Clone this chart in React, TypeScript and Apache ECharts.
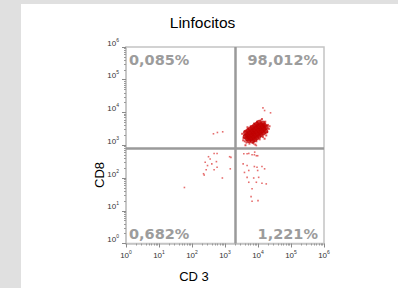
import React, { useEffect, useRef } from "react";
import * as echarts from "echarts";

// Axis bounds (log10 scale, decades 10^0 .. 10^6)
const AXIS_MIN = 1;
const AXIS_MAX = 1000000;

// Quadrant gates (CD3, CD8)
const GATE_CD3 = 2000;
const GATE_CD8 = 800;

// Quadrant percentages: [upper-left, upper-right, lower-left, lower-right]
const PCT_LABELS = ["0,085%", "98,012%", "0,682%", "1,221%"];

const TITLE = "Linfocitos";
const X_NAME = "CD 3";
const Y_NAME = "CD8";

// Dense core of the CD3+CD8+ population, [log10 CD3, log10 CD8]
const coreLog: [number, number][] = [
  [3.62, 3.27], [3.67, 3.21], [3.72, 3.15],
  [3.63, 3.39], [3.68, 3.32], [3.73, 3.26], [3.78, 3.2], [3.83, 3.13],
  [3.7, 3.44], [3.75, 3.37], [3.8, 3.31], [3.85, 3.25], [3.9, 3.18],
  [3.77, 3.49], [3.82, 3.42], [3.86, 3.36], [3.91, 3.3], [3.96, 3.23],
  [3.83, 3.54], [3.88, 3.47], [3.93, 3.41], [3.98, 3.35], [4.03, 3.28],
  [3.9, 3.59], [3.95, 3.52], [4.0, 3.46], [4.05, 3.4], [4.09, 3.33],
  [3.96, 3.64], [4.01, 3.57], [4.06, 3.51], [4.11, 3.45], [4.16, 3.38],
  [4.03, 3.69], [4.08, 3.62], [4.13, 3.56], [4.18, 3.5], [4.23, 3.43],
  [4.15, 3.67], [4.19, 3.61], [4.24, 3.55],
];

// Fringe events around the core, [log10 CD3, log10 CD8]
const fringeLog: [number, number][] = [
  [3.55, 3.15], [3.58, 3.3], [3.6, 3.42], [3.65, 3.08], [3.7, 3.5],
  [3.74, 3.05], [3.78, 3.58], [3.85, 3.08], [3.88, 3.66], [3.95, 3.12],
  [3.97, 3.72], [4.05, 3.18], [4.08, 3.76], [4.15, 3.25], [4.22, 3.72],
  [4.28, 3.4], [4.3, 3.62], [4.33, 3.5], [4.25, 3.3], [3.56, 3.22],
  [3.62, 3.0], [3.68, 3.55], [4.12, 3.8], [3.92, 3.02], [4.2, 3.2],
  [3.52, 3.35], [4.35, 3.58], [3.6, 3.12],
];

// Sparse scattered events, [log10 CD3, log10 CD8]
const sparseLog: [number, number][] = [
  // above the cluster
  [4.15, 4.14], [4.2, 4.06], [4.38, 3.99],
  // upper-left quadrant
  [2.65, 3.35], [2.77, 3.39], [2.93, 3.41],
  // between cluster and gate
  [3.87, 3.04], [3.95, 2.99],
  // lower-left quadrant
  [2.5, 2.65], [2.67, 2.75], [2.76, 2.75], [2.55, 2.58], [2.4, 2.48],
  [2.6, 2.43], [2.74, 2.5], [2.47, 2.38], [2.43, 2.25], [2.67, 2.25],
  [2.35, 2.13], [2.37, 2.09], [2.76, 2.33], [3.14, 2.65], [3.16, 2.28],
  [2.92, 2.0], [1.77, 1.71], [3.18, 2.63],
  // lower-right quadrant
  [3.67, 2.74], [3.82, 2.71], [3.9, 2.79], [3.99, 2.68],
  [3.57, 2.74], [3.72, 2.75], [3.89, 2.71], [3.95, 2.68],
  [3.55, 2.43], [3.67, 2.38], [3.89, 2.35], [3.97, 2.33], [4.12, 2.35],
  [4.2, 2.28], [3.72, 2.23], [3.99, 2.23], [3.67, 2.02], [3.87, 2.0],
  [4.02, 2.02], [3.72, 1.87], [3.95, 1.87], [4.12, 1.84], [4.25, 1.82],
  [3.82, 1.67], [3.79, 1.43], [4.0, 1.31], [3.82, 1.29], [3.59, 2.17],
];

const toValues = (pts: [number, number][]) =>
  pts.map(([lx, ly]) => [Math.pow(10, lx), Math.pow(10, ly)]);

const GRID = { left: 126, top: 47, width: 198, height: 196.5 };

const labelFormatter = (v: number) => {
  const e = Math.round(Math.log10(v));
  return `{b|10}{e|${e}}`;
};

const richLabel = {
  b: { fontSize: 8, fontFamily: "Liberation Sans", color: "#333", lineHeight: 10, verticalAlign: "bottom" },
  e: { fontSize: 5, fontFamily: "Liberation Sans", color: "#333", lineHeight: 10, verticalAlign: "top" },
};

export default function App() {
  const ref = useRef<HTMLDivElement>(null);

  useEffect(() => {
    if (!ref.current) return;
    const chart = echarts.init(ref.current, undefined, { renderer: "svg" });

    const axisCommon = {
      type: "log",
      logBase: 10,
      min: AXIS_MIN,
      max: AXIS_MAX,
      splitNumber: 6,
      splitLine: { show: false },
      axisLine: { show: true, lineStyle: { color: "#c4c4c4", width: 1.5 } },
      axisTick: { show: true, length: 4, lineStyle: { color: "#8a8a8a", width: 1 } },
      minorTick: { show: true, splitNumber: 9, length: 2, lineStyle: { color: "#9a9a9a", width: 1 } },
    };

    const right = GRID.left + GRID.width;
    const bottom = GRID.top + GRID.height;
    const pctStyle = {
      fill: "#9c9c9c",
      fontSize: 14.5,
      fontWeight: "bold",
      fontFamily: "DejaVu Sans",
    };

    chart.setOption({
      animation: false,
      backgroundColor: "transparent",
      grid: { ...GRID, show: true, borderColor: "#c4c4c4", borderWidth: 1.5 },
      xAxis: {
        ...axisCommon,
        axisLabel: { formatter: labelFormatter, rich: richLabel, margin: 6 },
      },
      yAxis: {
        ...axisCommon,
        axisLabel: { formatter: labelFormatter, rich: richLabel, margin: 7, verticalAlign: "bottom" },
      },
      graphic: [
        { type: "text", x: 202.5, y: 22, style: { text: TITLE, fill: "#000", fontSize: 15.5, fontFamily: "Liberation Sans", align: "center", verticalAlign: "middle" } },
        { type: "text", x: 194, y: 276, style: { text: X_NAME, fill: "#000", fontSize: 13, fontFamily: "Liberation Sans", align: "center", verticalAlign: "middle" } },
        { type: "text", x: 99, y: 175, rotation: Math.PI / 2, style: { text: Y_NAME, fill: "#000", fontSize: 13, fontFamily: "Liberation Sans", align: "center", verticalAlign: "middle" } },
        { type: "text", x: GRID.left + 3, y: GRID.top + 13, style: { ...pctStyle, text: PCT_LABELS[0], align: "left", verticalAlign: "middle" } },
        { type: "text", x: right - 6, y: GRID.top + 13, style: { ...pctStyle, text: PCT_LABELS[1], align: "right", verticalAlign: "middle" } },
        { type: "text", x: GRID.left + 3, y: bottom - 9.5, style: { ...pctStyle, text: PCT_LABELS[2], align: "left", verticalAlign: "middle" } },
        { type: "text", x: right - 6, y: bottom - 9.5, style: { ...pctStyle, text: PCT_LABELS[3], align: "right", verticalAlign: "middle" } },
      ],
      series: [
        {
          type: "scatter",
          name: "sparse",
          data: toValues(sparseLog),
          symbol: "rect",
          symbolSize: 1.6,
          itemStyle: { color: "#e04a4a" },
          silent: true,
          z: 3,
          markLine: {
            silent: true,
            symbol: "none",
            label: { show: false },
            lineStyle: { color: "#9a9a9a", width: 2.5, type: "solid" },
            data: [{ xAxis: GATE_CD3 }, { yAxis: GATE_CD8 }],
          },
        },
        {
          type: "scatter",
          name: "fringe",
          data: toValues(fringeLog),
          symbol: "rect",
          symbolSize: 2,
          itemStyle: { color: "#d42a2a" },
          silent: true,
          z: 4,
        },
        {
          type: "scatter",
          name: "core",
          data: toValues(coreLog),
          symbol: "circle",
          symbolSize: 5.5,
          itemStyle: { color: "#c00000" },
          silent: true,
          z: 5,
        },
      ],
    });

    return () => chart.dispose();
  }, []);

  return (
    <div style={{ position: "fixed", left: 0, top: 0, width: 398, height: 288, background: "#e0e0e0" }}>
      <div style={{ position: "absolute", left: 21, top: 4, width: 377, height: 284, background: "#fff" }} />
      <div ref={ref} style={{ position: "absolute", left: 0, top: 0, width: 398, height: 288 }} />
    </div>
  );
}
